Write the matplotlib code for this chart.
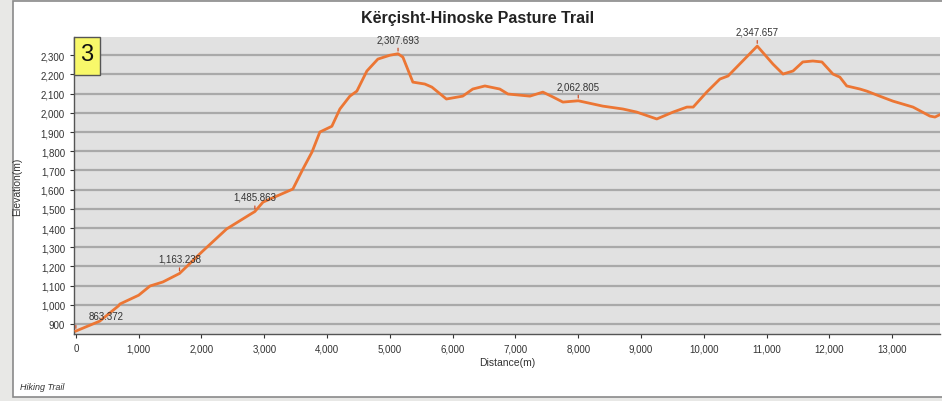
import matplotlib
matplotlib.use('Agg')
import matplotlib.pyplot as plt
from matplotlib.patches import Rectangle
from matplotlib.ticker import FuncFormatter

plt.rcParams['font.family'] = ['Liberation Sans', 'DejaVu Sans']

# profile (distance m, elevation m)
dist = [0, 380, 680, 700, 1000, 1180, 1385, 1650, 2020, 2400, 2770, 2850, 2980,
        3455, 3615, 3760, 3885, 4076, 4204, 4363, 4474, 4634, 4809, 5000, 5130,
        5207, 5366, 5557, 5669, 5900, 6160, 6320, 6513, 6750, 6880, 7230, 7436,
        7600, 7755, 8000, 8390, 8710, 8930, 9250, 9510, 9730, 9830, 10045, 10255,
        10385, 10570, 10850, 11100, 11260, 11420, 11575, 11735, 11880, 12055,
        12165, 12275, 12485, 12595, 12800, 13010, 13330, 13600, 13680, 13780]
elev = [863.372, 915, 995, 1004, 1050, 1098, 1119, 1163.238, 1280, 1395, 1470, 1485.863, 1535,
        1603, 1707, 1796, 1900, 1930, 2020, 2087, 2113, 2218, 2280, 2300, 2307.693,
        2290, 2160, 2150, 2134, 2072, 2087, 2124, 2140, 2124, 2098, 2087, 2108,
        2082, 2056, 2062.805, 2035, 2020, 2004, 1968, 2004, 2030, 2030, 2108, 2176,
        2192, 2254, 2347.657, 2254, 2202, 2218, 2265, 2270, 2265, 2202,
        2186, 2140, 2124, 2113, 2087, 2061, 2030, 1983, 1978, 1994]

# labelled points and their label text
lab_dist = [0, 1650, 2850, 5130, 8000, 10850]
lab_elev = [863.372, 1163.238, 1485.863, 2307.693, 2062.805, 2347.657]
lab_text = ['863.372', '1,163.238', '1,485.863', '2,307.693', '2,062.805', '2,347.657']

line_col = '#ec7634'

fig = plt.figure(figsize=(9.42, 4.02), dpi=100)
fig.patch.set_facecolor('#e8e8e6')
fig.patches.append(Rectangle((13 / 942, 4 / 402), 0.99, 396 / 402, transform=fig.transFigure,
                             facecolor='white', edgecolor='#8a8a8a', linewidth=1.2, zorder=-10))

ax = fig.add_axes([74 / 942, 67 / 402, 866 / 942, 297 / 402])
ax.set_facecolor('#e1e1e1')
ax.plot(dist, elev, color=line_col, linewidth=2.0, zorder=3)

for d, e, t in zip(lab_dist, lab_elev, lab_text):
    ax.annotate('', xy=(d, e), xytext=(0, 6), textcoords='offset points',
                arrowprops=dict(arrowstyle='-', color='#d0502a', lw=0.9), zorder=4)
    dx = 22 if d == 0 else 0
    ax.annotate(t, xy=(d, e), xytext=(dx, 7), textcoords='offset points',
                ha='center', va='bottom', fontsize=7, color='#333333', zorder=5)

ax.set_xlim(-30, 13760)
ax.set_ylim(848, 2395)
ax.set_xticks(range(0, 14000, 1000))
ax.set_yticks(range(900, 2400, 100))
fmt = FuncFormatter(lambda v, p: f'{int(v):,}')
ax.xaxis.set_major_formatter(fmt)
ax.yaxis.set_major_formatter(fmt)
ax.tick_params(labelsize=7, colors='#333333', length=3, width=0.8)
ax.grid(axis='y', color='#a9a9a9', linewidth=1.6)
ax.set_axisbelow(True)
for s in ['top', 'right']:
    ax.spines[s].set_visible(False)
for s in ['left', 'bottom']:
    ax.spines[s].set_color('#555555')
    ax.spines[s].set_linewidth(1.0)

ax.set_xlabel('Distance(m)', fontsize=7.5, color='#333333', labelpad=3)
ax.set_ylabel('Elevation(m)', fontsize=7.5, color='#333333')
ax.yaxis.set_label_coords(-0.060, 0.5)

fig.text(478 / 942, 1 - 18 / 402, 'Kërçisht-Hinoske Pasture Trail', ha='center', va='center',
         fontsize=11.5, fontweight='bold', color='#222222')
fig.text(20 / 942, 1 - 388 / 402, 'Hiking Trail', ha='left', va='center',
         fontsize=6.5, style='italic', color='#333333')

# yellow page-number box
ax.add_patch(Rectangle((0, 1 - 38 / 297), 26 / 866, 38 / 297, transform=ax.transAxes,
                       facecolor='#f8f86a', edgecolor='#555555', linewidth=1.0, zorder=6,
                       clip_on=False))
ax.text(13 / 866, 1 - 17 / 297, '3', transform=ax.transAxes, ha='center', va='center',
        fontsize=17, color='#111111', zorder=7)

fig.savefig('out.png', dpi=100)
